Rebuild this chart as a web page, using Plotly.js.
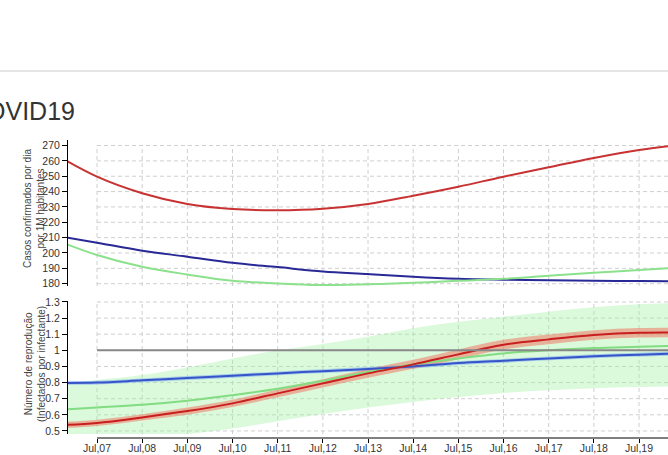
<!DOCTYPE html>
<html>
<head>
<meta charset="utf-8">
<script src="https://cdn.plot.ly/plotly-3.0.1.min.js"></script>
<style>html,body{margin:0;padding:0;background:#fff;}#chart{width:668px;height:455px;}</style>
</head>
<body>
<div id="chart"></div>
<script>
// ---- data ----
const dates = ['2020-07-06','2020-07-07','2020-07-08','2020-07-09','2020-07-10','2020-07-11','2020-07-12','2020-07-13','2020-07-14','2020-07-15','2020-07-16','2020-07-17','2020-07-18','2020-07-19','2020-07-20'];
const tickDates = ['2020-07-07','2020-07-08','2020-07-09','2020-07-10','2020-07-11','2020-07-12','2020-07-13','2020-07-14','2020-07-15','2020-07-16','2020-07-17','2020-07-18','2020-07-19'];
const tickLabels = ['Jul,07','Jul,08','Jul,09','Jul,10','Jul,11','Jul,12','Jul,13','Jul,14','Jul,15','Jul,16','Jul,17','Jul,18','Jul,19'];

// top panel: cases per day per 1M inhabitants
const casesRed   = [265.5, 249.7, 238.9, 231.9, 228.6, 227.8, 228.8, 231.9, 237.3, 243.2, 249.7, 255.8, 261.9, 267.1, 270.8];
const casesBlue  = [211.8, 206.7, 201.5, 197.6, 193.6, 190.8, 188.0, 186.3, 184.5, 183.2, 182.6, 182.2, 181.9, 181.7, 181.6];
const casesGreen = [209.4, 198.7, 191.0, 186.0, 181.9, 180.2, 179.1, 179.6, 180.6, 181.9, 183.2, 185.2, 187.1, 188.9, 190.6];
const casesTicks = [180, 190, 200, 210, 220, 230, 240, 250, 260, 270];

// bottom panel: reproduction number
const rRed    = [0.534, 0.550, 0.584, 0.623, 0.671, 0.733, 0.795, 0.857, 0.913, 0.975, 1.035, 1.068, 1.095, 1.109, 1.110];
const rRedLo  = [0.514, 0.530, 0.564, 0.601, 0.649, 0.709, 0.770, 0.830, 0.885, 0.945, 1.005, 1.038, 1.065, 1.079, 1.080];
const rRedHi  = [0.554, 0.570, 0.604, 0.645, 0.693, 0.757, 0.820, 0.884, 0.941, 1.005, 1.065, 1.098, 1.125, 1.139, 1.140];
const rBlue   = [0.798, 0.800, 0.814, 0.828, 0.842, 0.857, 0.871, 0.884, 0.900, 0.921, 0.935, 0.950, 0.963, 0.973, 0.982];
const rBlueLo = [0.786, 0.788, 0.802, 0.816, 0.830, 0.845, 0.859, 0.872, 0.888, 0.909, 0.923, 0.938, 0.951, 0.961, 0.970];
const rBlueHi = [0.810, 0.812, 0.826, 0.840, 0.854, 0.869, 0.883, 0.896, 0.912, 0.933, 0.947, 0.962, 0.975, 0.985, 0.994];
const rGreen   = [0.629, 0.646, 0.662, 0.687, 0.722, 0.762, 0.811, 0.865, 0.913, 0.950, 0.981, 1.000, 1.014, 1.022, 1.030];
const rGreenLo = [0.390, 0.420, 0.450, 0.480, 0.515, 0.560, 0.605, 0.645, 0.680, 0.710, 0.735, 0.752, 0.765, 0.773, 0.778];
const rGreenHi = [0.790, 0.816, 0.847, 0.894, 0.950, 1.000, 1.040, 1.085, 1.137, 1.178, 1.209, 1.240, 1.267, 1.286, 1.295];
const rTicks  = [0.5, 0.6, 0.7, 0.8, 0.9, 1.0, 1.1, 1.2, 1.3];
const rTickText = ['0.5','0.6','0.7','0.8','0.9','1','1.1','1.2','1.3'];
const rRef = 1.0;

// ---- layout constants ----
const FONT = 'Liberation Sans, Arial, sans-serif';
const xRange = ['2020-07-06 08:35', '2020-07-19 15:23'];
const topRange = [178.5, 273.6];
const botRange = [0.481, 1.306];
const gridColor = '#cfcfcf';

function band(lo, hi, color, xa, ya) {
  return [
    {x: dates, y: lo, xaxis: xa, yaxis: ya, mode: 'lines', line: {width: 0, shape: 'spline'}, hoverinfo: 'skip', showlegend: false},
    {x: dates, y: hi, xaxis: xa, yaxis: ya, mode: 'lines', line: {width: 0, shape: 'spline'}, fill: 'tonexty', fillcolor: color, hoverinfo: 'skip', showlegend: false}
  ];
}
function line(y, color, w, xa, ya) {
  return {x: dates, y: y, xaxis: xa, yaxis: ya, mode: 'lines', line: {color: color, width: w, shape: 'spline'}, showlegend: false};
}

const traces = [
  line(casesRed, 'rgb(200,50,50)', 2, 'x2', 'y2'),
  line(casesBlue, 'rgb(40,40,150)', 2, 'x2', 'y2'),
  line(casesGreen, 'rgb(140,225,140)', 2, 'x2', 'y2'),
  ...band(rGreenLo, rGreenHi, 'rgba(160,240,160,0.38)', 'x', 'y'),
  ...band(rBlueLo, rBlueHi, 'rgba(120,170,245,0.55)', 'x', 'y'),
  ...band(rRedLo, rRedHi, 'rgba(240,120,100,0.55)', 'x', 'y'),
  line(rGreen, 'rgb(130,220,130)', 2, 'x', 'y'),
  line(rBlue, 'rgb(55,85,200)', 2, 'x', 'y'),
  line(rRed, 'rgb(200,30,30)', 2, 'x', 'y')
];

const shapes = [];
// page separator line
shapes.push({type: 'line', xref: 'paper', yref: 'paper', x0: 0, x1: 1, y0: 1 - 71/455, y1: 1 - 71/455, line: {color: '#cccccc', width: 1}});
// grid lines (start at first date tick)
const gridEnd = dates[dates.length - 1];
casesTicks.forEach(v => shapes.push({type: 'line', xref: 'x2', yref: 'y2', x0: tickDates[0], x1: gridEnd, y0: v, y1: v, layer: 'below', line: {color: gridColor, width: 1, dash: '4px,3px'}}));
rTicks.forEach(v => shapes.push({type: 'line', xref: 'x', yref: 'y', x0: tickDates[0], x1: gridEnd, y0: v, y1: v, layer: 'below', line: {color: gridColor, width: 1, dash: '4px,3px'}}));
tickDates.forEach(d => {
  shapes.push({type: 'line', xref: 'x2', yref: 'y2', x0: d, x1: d, y0: topRange[0], y1: casesTicks[casesTicks.length-1], layer: 'below', line: {color: gridColor, width: 1, dash: '4px,3px'}});
  shapes.push({type: 'line', xref: 'x', yref: 'y', x0: d, x1: d, y0: botRange[0], y1: rTicks[rTicks.length-1], layer: 'below', line: {color: gridColor, width: 1, dash: '4px,3px'}});
});
// R = 1 reference line
shapes.push({type: 'line', xref: 'x', yref: 'y', x0: tickDates[0], x1: gridEnd, y0: rRef, y1: rRef, line: {color: '#888888', width: 2}});
// x axis domain line (starts at first tick)
const xAxisY = 1 - 438/455;
shapes.push({type: 'line', xref: 'x', yref: 'paper', x0: tickDates[0], x1: gridEnd, y0: xAxisY, y1: xAxisY, line: {color: '#000', width: 1}});

const layout = {
  width: 668, height: 455,
  margin: {l: 0, r: 0, t: 0, b: 0},
  paper_bgcolor: '#fff', plot_bgcolor: 'rgba(0,0,0,0)',
  font: {family: FONT, size: 10.5, color: '#333'},
  showlegend: false,
  xaxis: {
    domain: [68/668, 1], range: xRange, type: 'date',
    anchor: 'free', position: xAxisY,
    showgrid: false, zeroline: false, showline: false,
    tickvals: tickDates, ticktext: tickLabels,
    ticks: 'outside', ticklen: 4, tickcolor: '#000', tickwidth: 1,
    ticklabelstandoff: -4,
    tickfont: {family: FONT, size: 10.5, color: '#333'}
  },
  yaxis: {
    domain: [1 - 434/455, 1 - 301/455], range: botRange,
    showgrid: false, zeroline: false, showline: true, linecolor: '#000', linewidth: 1,
    tickvals: rTicks, ticktext: rTickText,
    ticks: 'outside', ticklen: 5, tickcolor: '#000',
    tickfont: {family: FONT, size: 10.5, color: '#333'}
  },
  xaxis2: {
    domain: [68/668, 1], range: xRange, type: 'date', anchor: 'y2',
    showgrid: false, zeroline: false, showline: false, showticklabels: false, ticks: ''
  },
  yaxis2: {
    domain: [1 - 286/455, 1 - 140/455], range: topRange, anchor: 'x2',
    showgrid: false, zeroline: false, showline: true, linecolor: '#000', linewidth: 1,
    tickvals: casesTicks,
    ticks: 'outside', ticklen: 5, tickcolor: '#000',
    tickfont: {family: FONT, size: 10.5, color: '#333'}
  },
  shapes: shapes,
  annotations: [
    {text: 'COVID19', xref: 'paper', yref: 'paper', x: 77/668, y: 1 - 111/455, xanchor: 'right', yanchor: 'middle', showarrow: false,
     font: {family: FONT, size: 25, color: '#333'}},
    {text: 'Casos confirmados por dia<br>por 1M habitantes', xref: 'paper', yref: 'paper', x: 34/668, y: 1 - 209/455, textangle: -90,
     xanchor: 'center', yanchor: 'middle', showarrow: false, font: {family: FONT, size: 10, color: '#444'}},
    {text: 'Número de reprodução<br>(Infectados por infectante)', xref: 'paper', yref: 'paper', x: 35/668, y: 1 - 364/455, textangle: -90,
     xanchor: 'center', yanchor: 'middle', showarrow: false, font: {family: FONT, size: 10, color: '#444'}}
  ]
};

Plotly.newPlot('chart', traces, layout, {displayModeBar: false, staticPlot: true});
</script>
</body>
</html>
